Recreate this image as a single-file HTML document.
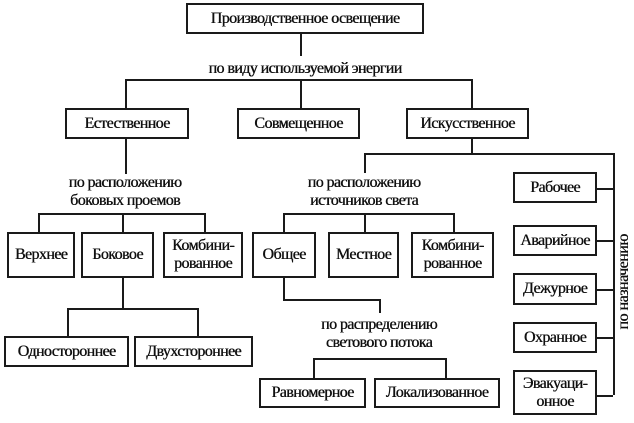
<!DOCTYPE html>
<html><head><meta charset="utf-8"><style>
html,body{margin:0;padding:0;background:#fff;}
body{width:634px;height:423px;position:relative;overflow:hidden;font-family:"Liberation Serif",serif;color:#111;}
.b{position:absolute;border:2px solid #1a1a1a;box-sizing:border-box;display:flex;align-items:center;justify-content:center;text-align:center;font-size:16px;line-height:18px;letter-spacing:-0.6px;white-space:nowrap;text-shadow:0.4px 0 0 #111;}
.h{position:absolute;height:0;border-top:2px solid #1a1a1a;}
.v{position:absolute;width:0;border-left:2px solid #1a1a1a;}
.t{position:absolute;font-size:16px;line-height:18px;letter-spacing:-0.6px;text-align:center;white-space:nowrap;transform:translateX(-50%);text-shadow:0.4px 0 0 #111;}
</style></head><body>
<div class="b" style="left:186px;top:3px;width:238px;height:31px">Производственное освещение</div>
<div class="v" style="left:300px;top:34px;height:22px"></div>
<div class="t" style="left:305px;top:60px">по виду используемой энергии</div>
<div class="h" style="left:125px;top:79px;width:346px"></div>
<div class="v" style="left:125px;top:79px;height:29px"></div>
<div class="v" style="left:300px;top:79px;height:29px"></div>
<div class="v" style="left:471px;top:79px;height:29px"></div>
<div class="b" style="left:65px;top:108px;width:124px;height:31px">Естественное</div>
<div class="b" style="left:237px;top:108px;width:123px;height:31px">Совмещенное</div>
<div class="b" style="left:406px;top:108px;width:123px;height:31px">Искусственное</div>

<div class="v" style="left:125px;top:139px;height:35px"></div>
<div class="t" style="left:125px;top:174px">по расположению<br>боковых проемов</div>
<div class="h" style="left:38px;top:213px;width:166px"></div>
<div class="v" style="left:38px;top:213px;height:19px"></div>
<div class="v" style="left:122px;top:213px;height:19px"></div>
<div class="v" style="left:204px;top:213px;height:19px"></div>
<div class="b" style="left:7px;top:232px;width:68px;height:46px">Верхнее</div>
<div class="b" style="left:81px;top:232px;width:73px;height:46px">Боковое</div>
<div class="b" style="left:163px;top:232px;width:80px;height:46px">Комбини-<br>рованное</div>
<div class="v" style="left:122px;top:278px;height:30px"></div>
<div class="h" style="left:67px;top:308px;width:130px"></div>
<div class="v" style="left:67px;top:308px;height:28px"></div>
<div class="v" style="left:197px;top:308px;height:28px"></div>
<div class="b" style="left:4px;top:336px;width:125px;height:31px">Одностороннее</div>
<div class="b" style="left:134px;top:336px;width:119px;height:31px">Двухстороннее</div>

<div class="v" style="left:471px;top:139px;height:14px"></div>
<div class="h" style="left:364px;top:153px;width:250px"></div>
<div class="v" style="left:364px;top:153px;height:20px"></div>
<div class="t" style="left:364px;top:174px">по расположению<br>источников света</div>
<div class="h" style="left:283px;top:213px;width:170px"></div>
<div class="v" style="left:283px;top:213px;height:19px"></div>
<div class="v" style="left:364px;top:213px;height:19px"></div>
<div class="v" style="left:453px;top:213px;height:19px"></div>
<div class="b" style="left:252px;top:232px;width:64px;height:46px">Общее</div>
<div class="b" style="left:328px;top:232px;width:71px;height:46px">Местное</div>
<div class="b" style="left:411px;top:232px;width:83px;height:46px">Комбини-<br>рованное</div>
<div class="v" style="left:283px;top:278px;height:21px"></div>
<div class="h" style="left:283px;top:299px;width:96px"></div>
<div class="v" style="left:379px;top:299px;height:14px"></div>
<div class="t" style="left:379px;top:316px">по распределению<br>светового потока</div>
<div class="h" style="left:313px;top:358px;width:132px"></div>
<div class="v" style="left:313px;top:358px;height:20px"></div>
<div class="v" style="left:445px;top:358px;height:20px"></div>
<div class="b" style="left:259px;top:378px;width:107px;height:30px">Равномерное</div>
<div class="b" style="left:374px;top:378px;width:126px;height:30px">Локализованное</div>

<div class="v" style="left:613px;top:153px;height:242px"></div>
<div class="b" style="left:513px;top:172px;width:84px;height:31px">Рабочее</div>
<div class="b" style="left:513px;top:225px;width:84px;height:31px">Аварийное</div>
<div class="b" style="left:513px;top:273px;width:84px;height:32px">Дежурное</div>
<div class="b" style="left:513px;top:322px;width:84px;height:31px">Охранное</div>
<div class="b" style="left:513px;top:370px;width:84px;height:45px">Эвакуаци-<br>онное</div>
<div class="h" style="left:597px;top:188px;width:16px"></div>
<div class="h" style="left:597px;top:240px;width:16px"></div>
<div class="h" style="left:597px;top:289px;width:16px"></div>
<div class="h" style="left:597px;top:337px;width:16px"></div>
<div class="h" style="left:597px;top:395px;width:16px"></div>
<div style="position:absolute;left:624px;top:282px;font-size:16px;letter-spacing:-0.5px;white-space:nowrap;transform:translate(-50%,-50%) rotate(-90deg);text-shadow:0.4px 0 0 #111;">по назначению</div>
</body></html>
